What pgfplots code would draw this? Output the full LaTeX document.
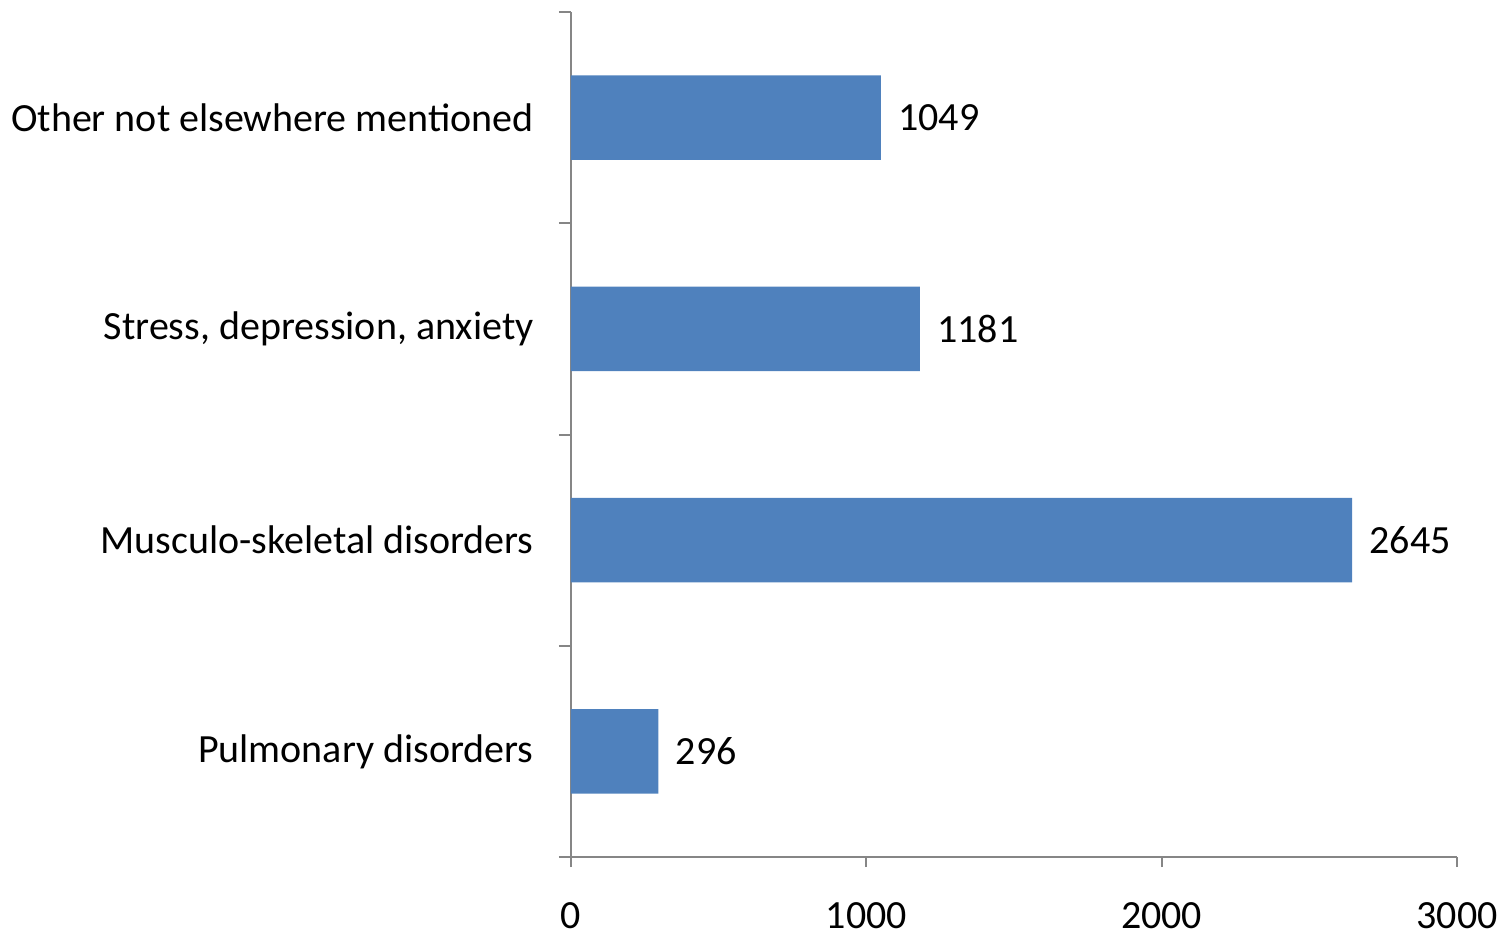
\documentclass[border=0pt]{standalone}
\usepackage{pgfplots}
\pgfplotsset{compat=1.18}
\usepackage{fontspec}
\setmainfont{Carlito}
\definecolor{barblue}{HTML}{4F81BD}
\definecolor{axgray}{HTML}{868686}
\begin{document}
\fontsize{20}{24}\selectfont
\begin{tikzpicture}
\path[use as bounding box] (-285.5pt,-40.5pt) rectangle (467.5pt,428.5pt);
\begin{axis}[
  at={(0,0)}, anchor=south west,
  scale only axis, width=443pt, height=422.5pt,
  xbar, bar width=0.4,
  xmin=0, xmax=3000, ymin=-0.5, ymax=3.5,
  axis lines*=left,
  axis line style={axgray, line width=1pt},
  xtick={0,1000,2000,3000},
  ytick={0,1,2,3},
  yticklabels={Pulmonary disorders,Musculo-skeletal disorders,{Stress, depression, anxiety},Other not elsewhere mentioned},
  minor ytick={-0.5,0.5,1.5,2.5,3.5},
  tick align=outside,
  major tick length=5pt,
  minor tick length=6pt,
  every major y tick/.style={draw=none},
  every minor y tick/.style={draw=axgray, line width=1pt},
  every x tick/.style={draw=axgray, line width=1pt},
  yticklabel style={font=\fontsize{20}{24}\selectfont, inner sep=0pt, xshift=-13.5pt},
  xticklabel style={font=\fontsize{20}{24}\selectfont, inner sep=0pt, yshift=-17.5pt},
  /pgf/number format/assume math mode=true,
  /pgf/number format/1000 sep={},
  nodes near coords,
  nodes near coords style={font=\fontsize{20}{24}\selectfont, anchor=west, inner sep=0pt, xshift=8.5pt, text=black},
]
\addplot[fill=barblue, draw=none] coordinates {(296,0) (2645,1) (1181,2) (1049,3)};
\end{axis}
\end{tikzpicture}
\end{document}
